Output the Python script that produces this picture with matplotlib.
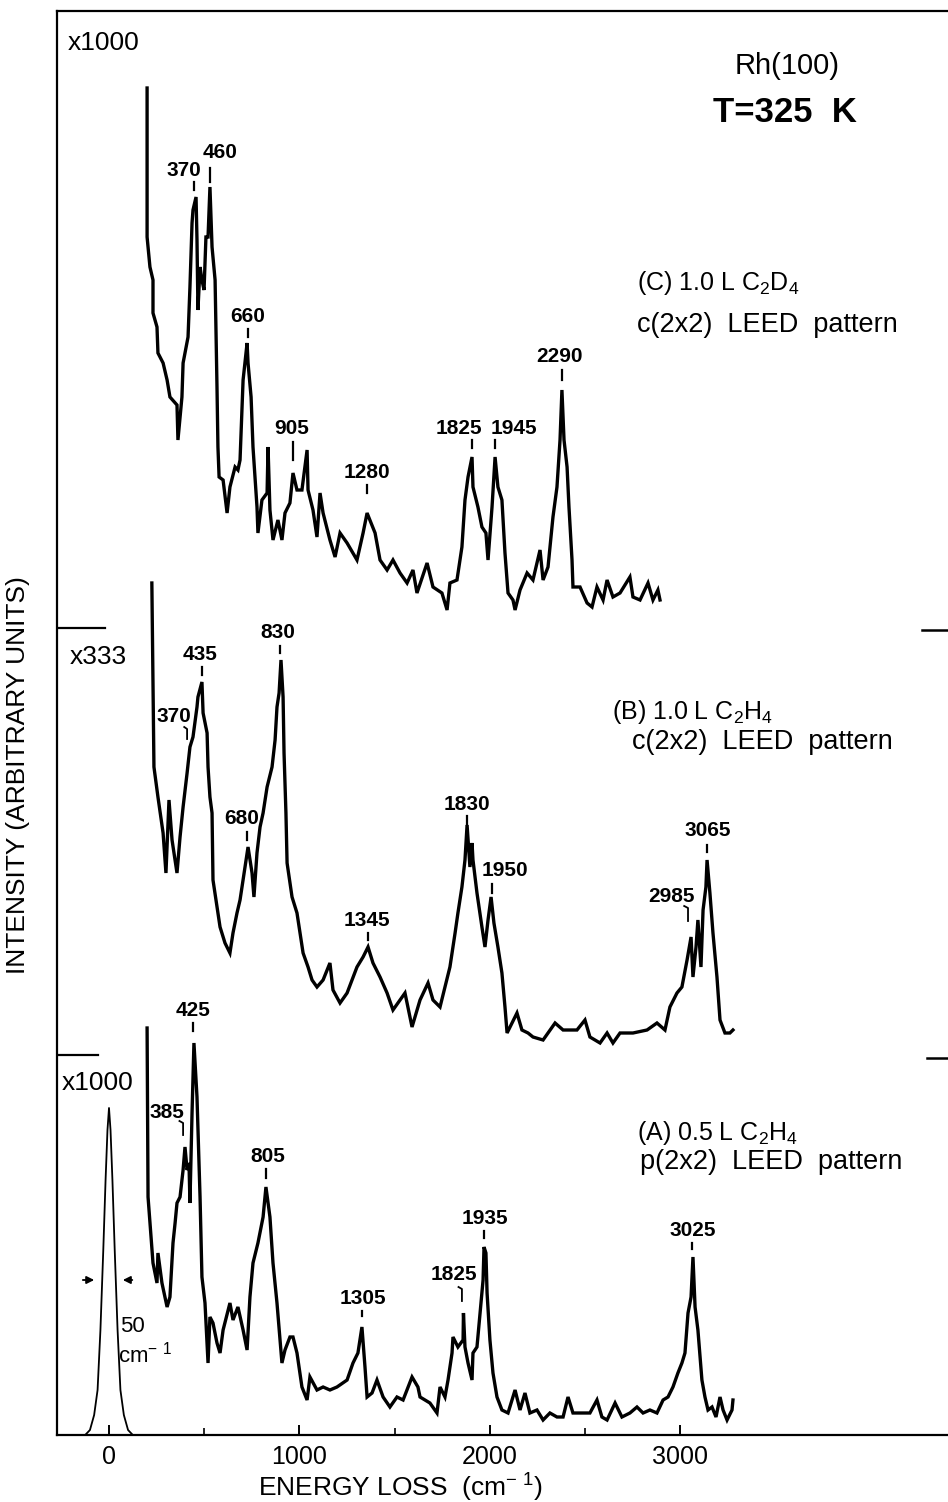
import matplotlib
matplotlib.use("Agg")
import matplotlib.pyplot as plt
import numpy as np

plt.rcParams['font.family'] = ['Liberation Sans', 'DejaVu Sans']
plt.rcParams['mathtext.default'] = 'regular'

# energy loss (cm-1) and intensity above each spectrum's own zero line (arb. units)
energy_c = [200, 200, 215, 231, 231, 252, 257, 284, 305, 320, 357, 362, 383, 389, 415, 425, 436, 441, 457, 462,
            467, 478, 488, 499, 509, 520, 530, 541, 557, 567, 572, 578, 599, 620, 635, 662, 677, 688, 704, 725,
            730, 746, 756, 777, 782, 803, 830, 835, 845, 861, 887, 908, 924, 950, 966, 987, 1013, 1040, 1045, 1071,
            1092, 1108, 1124, 1160, 1187, 1213, 1250, 1302, 1334, 1355, 1397, 1423, 1460, 1491, 1528, 1565, 1596, 1617, 1670, 1701,
            1748, 1775, 1790, 1827, 1853, 1869, 1885, 1906, 1911, 1937, 1958, 1979, 1990, 2011, 2027, 2042, 2063, 2079, 2095, 2121,
            2132, 2158, 2195, 2226, 2263, 2279, 2305, 2331, 2352, 2368, 2378, 2389, 2405, 2415, 2431, 2436, 2473, 2510, 2536, 2562,
            2594, 2615, 2646, 2683, 2735, 2751, 2788, 2830, 2856, 2882, 2893]
inten_c = [540, 391, 361, 348, 315, 301, 275, 265, 248, 231, 223, 188, 231, 265, 291, 341, 405, 418, 431, 388,
           318, 361, 348, 338, 391, 391, 441, 381, 348, 241, 181, 151, 148, 115, 141, 161, 158, 168, 248, 285,
           265, 231, 181, 121, 95, 128, 135, 181, 118, 88, 108, 88, 115, 125, 155, 138, 138, 178, 138, 118,
           91, 135, 115, 88, 71, 95, 85, 68, 95, 115, 95, 68, 58, 68, 55, 45, 58, 35, 65, 41,
           35, 18, 45, 48, 81, 128, 151, 171, 141, 121, 101, 95, 68, 121, 171, 141, 128, 75, 35, 28,
           18, 38, 55, 48, 78, 48, 61, 111, 141, 188, 238, 188, 161, 121, 68, 41, 41, 25, 21, 41,
           28, 48, 31, 35, 51, 31, 28, 45, 28, 38, 28]

energy_b = [225, 236, 257, 284, 299, 315, 331, 357, 373, 389, 410, 425, 441, 462, 467, 488, 494, 515, 520, 530,
            541, 546, 567, 583, 609, 635, 651, 672, 688, 714, 730, 751, 761, 777, 793, 809, 830, 856, 872, 882,
            893, 903, 914, 919, 929, 935, 961, 987, 1003, 1019, 1045, 1066, 1092, 1124, 1160, 1176, 1213, 1250, 1276, 1302,
            1334, 1360, 1386, 1423, 1460, 1491, 1528, 1554, 1591, 1633, 1675, 1701, 1738, 1764, 1790, 1817, 1832, 1853, 1869, 1880,
            1895, 1906, 1911, 1932, 1958, 1974, 1990, 2006, 2021, 2042, 2063, 2079, 2090, 2116, 2142, 2168, 2200, 2226, 2279, 2342,
            2384, 2457, 2499, 2525, 2578, 2615, 2646, 2683, 2751, 2825, 2877, 2919, 2945, 2982, 3008, 3035, 3056, 3066, 3082, 3092,
            3108, 3119, 3134, 3140, 3155, 3171, 3192, 3208, 3234, 3260, 3276]
inten_b = [472, 288, 258, 222, 182, 255, 215, 182, 218, 248, 282, 308, 318, 348, 358, 373, 342, 322, 288, 258,
           242, 175, 148, 128, 112, 102, 122, 142, 155, 188, 208, 182, 158, 202, 228, 242, 268, 288, 315, 348,
           362, 395, 358, 302, 242, 192, 158, 142, 122, 102, 88, 75, 68, 75, 92, 65, 52, 62, 75, 88,
           98, 108, 92, 78, 62, 45, 55, 62, 28, 55, 72, 55, 48, 68, 88, 122, 142, 168, 195, 230,
           188, 212, 195, 162, 128, 108, 135, 158, 132, 108, 82, 48, 22, 32, 42, 25, 22, 18, 15, 32,
           25, 25, 35, 18, 12, 22, 12, 22, 22, 25, 32, 25, 48, 62, 68, 95, 118, 78, 108, 135,
           88, 145, 168, 195, 162, 122, 78, 35, 22, 22, 25]

energy_a = [200, 205, 231, 252, 257, 278, 305, 320, 336, 347, 357, 373, 389, 399, 410, 420, 425, 436, 446, 462,
            478, 488, 504, 520, 530, 546, 567, 583, 599, 635, 651, 677, 704, 725, 740, 756, 782, 809, 824, 845,
            861, 882, 908, 924, 950, 966, 987, 1013, 1040, 1055, 1092, 1124, 1160, 1197, 1250, 1281, 1307, 1328, 1344, 1355,
            1381, 1407, 1439, 1475, 1512, 1544, 1591, 1622, 1633, 1685, 1722, 1738, 1764, 1780, 1801, 1806, 1832, 1859, 1861, 1869,
            1885, 1906, 1911, 1932, 1948, 1964, 1969, 1979, 1985, 2000, 2016, 2037, 2063, 2095, 2132, 2158, 2184, 2210, 2247, 2279,
            2315, 2352, 2384, 2410, 2436, 2483, 2525, 2562, 2588, 2615, 2657, 2693, 2735, 2772, 2804, 2840, 2877, 2909, 2935, 2961,
            2987, 3008, 3024, 3040, 3056, 3066, 3077, 3092, 3113, 3129, 3145, 3166, 3187, 3208, 3224, 3245, 3271, 3276]
inten_a = [407, 238, 172, 152, 182, 152, 128, 138, 192, 212, 232, 238, 265, 288, 265, 272, 232, 322, 392, 338,
           238, 158, 132, 72, 118, 112, 92, 82, 105, 132, 115, 128, 105, 85, 138, 172, 192, 218, 248, 218,
           172, 132, 72, 85, 98, 98, 82, 48, 35, 58, 45, 48, 45, 48, 55, 72, 82, 108, 68, 38,
           42, 55, 38, 28, 38, 35, 58, 48, 38, 32, 22, 48, 38, 55, 82, 98, 88, 95, 122, 88,
           72, 55, 82, 88, 122, 155, 188, 182, 142, 95, 62, 38, 25, 22, 45, 25, 42, 22, 25, 15,
           22, 18, 18, 38, 22, 22, 22, 35, 18, 15, 32, 18, 22, 28, 22, 25, 22, 35, 38, 48,
           62, 72, 82, 122, 138, 178, 128, 105, 55, 38, 25, 28, 18, 38, 25, 15, 25, 35]

# elastic peak
energy_el = [-125, -100, -78, -60, -45, -30, -18, -8, 0, 8, 18, 30, 45, 60, 78, 100, 125]
inten_el = [0, 5, 20, 45, 105, 185, 255, 305, 327, 305, 255, 185, 105, 45, 20, 5, 0]

# zero lines of the stacked spectra
offset_a, offset_b, offset_c = 0, 380, 807

# peak labels: text, label x, label y, mark x, mark top, mark bottom
peaks_c = [("370", 394, 1265, 446, 1253, 1245), ("460", 583, 1283, 530, 1267, 1253),
           ("660", 730, 1118, 730, 1106, 1098), ("905", 961, 1006, 966, 993, 975),
           ("1280", 1355, 963, 1355, 950, 942), ("1825", 1835, 1007, 1906, 995, 987),
           ("1945", 2125, 1007, 2027, 995, 987), ("2290", 2363, 1078, 2378, 1065, 1055)]
peaks_b = [("435", 478, 781, 488, 768, 760), ("830", 887, 802, 898, 789, 782),
           ("680", 698, 616, 725, 603, 595), ("1345", 1355, 515, 1360, 502, 495),
           ("1830", 1880, 631, 1880, 619, 610), ("1950", 2079, 564, 2011, 551, 542),
           ("3065", 3145, 605, 3140, 590, 583)]
peaks_a = [("425", 441, 425, 441, 412, 404), ("805", 835, 279, 824, 266, 257),
           ("1305", 1334, 137, 1328, 124, 119), ("1935", 1974, 216, 1969, 204, 197),
           ("3025", 3066, 205, 3061, 192, 186)]
# labels with a bent pointer
hooks = [("370", 340, 718, 395, 410, 706, 696), ("2985", 2955, 538, 3020, 3040, 527, 514),
         ("385", 305, 323, 370, 389, 312, 300), ("1825", 1810, 160, 1835, 1853, 146, 134)]

fig = plt.figure(figsize=(9.48, 15.02), dpi=100)
ax = fig.add_axes([57 / 948, 67 / 1502, 891 / 948, 1424 / 1502])
ax.set_xlim(-273, 4405)
ax.set_ylim(0, 1424)

lw = 2.4
ax.plot(energy_c, np.array(inten_c) + offset_c, color='black', lw=lw, solid_joinstyle='miter')
ax.plot(energy_b, np.array(inten_b) + offset_b, color='black', lw=lw, solid_joinstyle='miter')
ax.plot(energy_a, np.array(inten_a) + offset_a, color='black', lw=lw, solid_joinstyle='miter')
ax.plot(energy_el, inten_el, color='black', lw=1.3)

# zero-line markers at both sides
ax.plot([-273, -21], [offset_c, offset_c], color='black', lw=1.6)
ax.plot([-273, -58], [offset_b, offset_b], color='black', lw=1.6)
ax.plot([4268, 4405], [offset_c - 2, offset_c - 2], color='black', lw=1.8)
ax.plot([4295, 4405], [offset_b - 3, offset_b - 3], color='black', lw=1.8)

pk_font = dict(fontsize=15, fontweight='bold', ha='center', va='center')
for txt, tx, ty, mx, m1, m2 in peaks_c + peaks_b + peaks_a:
    ax.text(tx, ty, txt, **pk_font)
    ax.plot([mx, mx], [m1, m2], color='black', lw=1.6)
for txt, tx, ty, hx0, hx1, m1, m2 in hooks:
    ax.text(tx, ty, txt, **pk_font)
    ax.plot([hx0, hx1, hx1], [m1 + 2, m1, m2], color='black', lw=1.3)

# resolution arrows on the elastic peak
ax.annotate('', xy=(-63, 155), xytext=(-152, 155),
            arrowprops=dict(arrowstyle='-|>', color='black', lw=1.3, mutation_scale=11))
ax.annotate('', xy=(58, 155), xytext=(137, 155),
            arrowprops=dict(arrowstyle='-|>', color='black', lw=1.3, mutation_scale=11))
ax.text(58, 108, "50", fontsize=16, ha='left', va='center')
ax.text(47, 80, "cm$^{-\\ 1}$", fontsize=16, ha='left', va='center')

ax.text(-215, 1392, "x1000", fontsize=19, ha='left', va='center')
ax.text(-205, 778, "x333", fontsize=19, ha='left', va='center')
ax.text(-247, 352, "x1000", fontsize=19, ha='left', va='center')

ax.text(3560, 1369, "Rh(100)", fontsize=21, ha='center', va='center')
ax.text(3550, 1323, "T=325  K", fontsize=25, fontweight='bold', ha='center', va='center')

sp = dict(fontsize=18, ha='left', va='center')
lp = dict(fontsize=19.5, ha='left', va='center')
ax.text(2772, 1152, "(C) 1.0 L C$_2$D$_4$", **sp)
ax.text(2772, 1110, "c(2x2)  LEED  pattern", **lp)
ax.text(2641, 723, "(B) 1.0 L C$_2$H$_4$", **sp)
ax.text(2746, 693, "c(2x2)  LEED  pattern", **lp)
ax.text(2772, 302, "(A) 0.5 L C$_2$H$_4$", **sp)
ax.text(2788, 273, "p(2x2)  LEED  pattern", **lp)

ax.set_xticks([0, 1000, 2000, 3000])
ax.set_xticks([500, 1500, 2500], minor=True)
ax.set_yticks([])
ax.tick_params(axis='x', which='major', direction='in', length=7, width=1.4, labelsize=18, pad=7)
ax.tick_params(axis='x', which='minor', direction='in', length=5, width=1.2)
ax.spines['right'].set_visible(False)
for s in ['left', 'top', 'bottom']:
    ax.spines[s].set_linewidth(1.6)

fig.text(400 / 948, 1 - 1488 / 1502, "ENERGY LOSS  (cm$^{-\\ 1}$)", fontsize=19, ha='center', va='center')
fig.text(18 / 948, 1 - 775 / 1502, "INTENSITY (ARBITRARY UNITS)", fontsize=19, rotation=90,
         ha='center', va='center')

fig.savefig("out.png", dpi=100)
